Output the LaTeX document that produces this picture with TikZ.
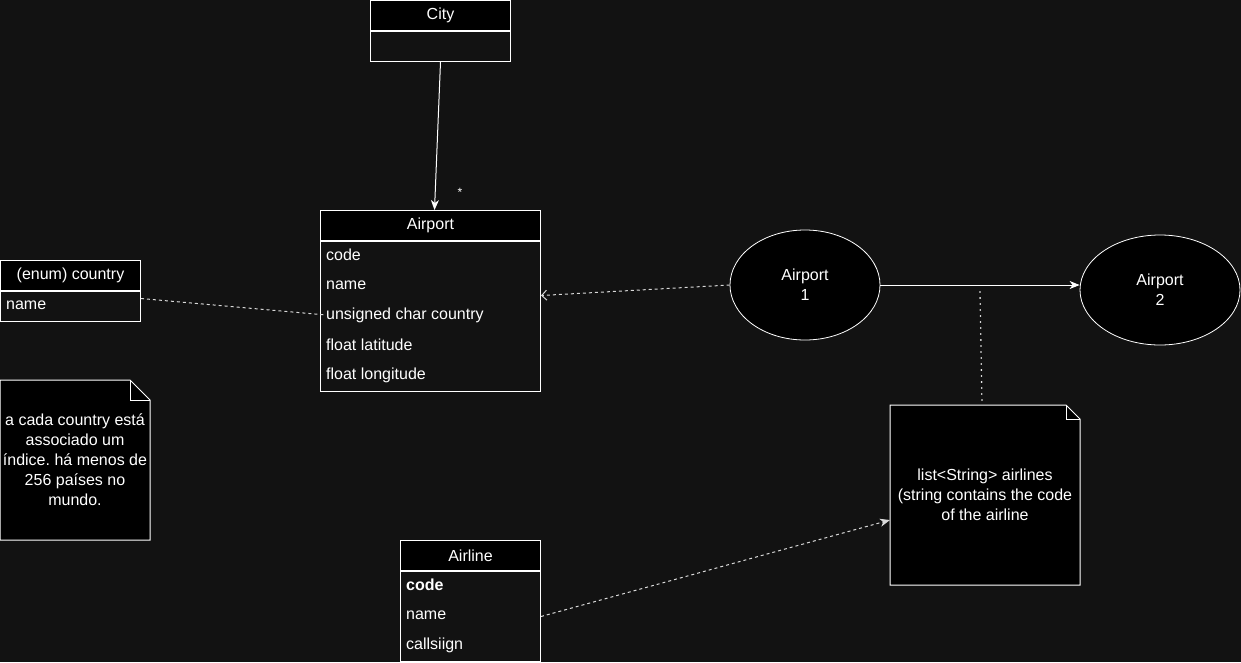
\documentclass[tikz,border=0pt]{standalone}
\usepackage{fontspec}
\setmainfont{Liberation Sans}
\usetikzlibrary{shapes.geometric,arrows.meta}
\definecolor{canvas}{RGB}{18,18,18}
\frenchspacing
\begin{document}
\begin{tikzpicture}[x=1pt,y=-1pt,
  every node/.style={font=\fontsize{16}{20}\selectfont, text=white},
  hdr/.style={draw=white, fill=black, line width=1pt, inner sep=0pt, minimum height=30pt, anchor=north west},
  body/.style={draw=white, fill=canvas, line width=1pt, inner sep=0pt, anchor=north west},
  attr/.style={anchor=west, inner sep=0pt},
  oval/.style={ellipse, draw=white, fill=black, line width=0.8pt, inner sep=0pt, align=center},
  notebody/.style={draw=white, fill=black, line width=1pt},
  notetext/.style={align=center, inner sep=0pt},
  conn/.style={draw=white, line width=1pt},
  dashedconn/.style={draw=white!85!black, line width=1pt, dash pattern=on 3pt off 3pt},
  block/.style={-{Stealth[length=10pt,width=8pt,inset=3pt]}},
  chevron/.style={-{Straight Barb[length=5pt,width=10pt]}},
]
% canvas
\fill[canvas] (0,0) rectangle (1241,662);
\useasboundingbox (0,0) rectangle (1241,662);

% City
\node[hdr, minimum width=140pt] (city) at (370,0) {City};
\node[body, minimum width=140pt, minimum height=30pt] (citybody) at (city.south west) {};

% Airport class
\node[hdr, minimum width=220pt] (airport) at (320,210) {Airport};
\node[body, minimum width=220pt, minimum height=150pt] (apbody) at (airport.south west) {};
\node[attr] (apcode) at (326,255) {code};
\node[attr] (apname) at (326,285) {name};
\node[attr] (apcountry) at (326,315) {unsigned char country};
\node[attr] (aplat) at (326,345) {float latitude};
\node[attr] (aplon) at (326,375) {float longitude};

% country enum
\node[hdr, minimum width=140pt] (country) at (0,260) {(enum) country};
\node[body, minimum width=140pt, minimum height=30pt] (cbody) at (country.south west) {};
\node[attr] (cname) at (6,305) {name};

% Airline class
\node[hdr, minimum width=140pt] (airline) at (400,540) {Airline};
\node[body, minimum width=140pt, minimum height=90pt] (albody) at (airline.south west) {};
\node[attr, font=\fontsize{16}{20}\selectfont\bfseries] (alcode) at (406,585) {code};
\node[attr] (alname) at (406,615) {name};
\node[attr] (alcall) at (406,645) {callsiign};

% note about countries
\path[notebody] (0,380) -- (130,380) -- (150,400) -- (150,540) -- (0,540) -- cycle;
\draw[white, line width=0.8pt] (130,380) -- (130,400) -- (150,400);
\node[notetext] (note1) at (75,460) {a cada country está\\associado um\\índice. há menos de\\256 países no\\mundo.};

% note about airlines
\path[notebody] (890,405) -- (1066,405) -- (1080,419) -- (1080,585) -- (890,585) -- cycle;
\draw[white, line width=0.8pt] (1066,405) -- (1066,419) -- (1080,419);
\node[notetext] (note2) at (985,495) {list<String> airlines\\(string contains the code\\of the airline};

% airports
\node[oval, minimum width=150pt, minimum height=110pt] (a1) at (805,285) {Airport\\1};
\node[oval, minimum width=160pt, minimum height=110pt] (a2) at (1160,290) {Airport\\2};

% connectors
\draw[conn, block] (citybody.south) -- ([xshift=4pt]airport.north);
\node[font=\fontsize{12}{14}\selectfont] (mult) at (460,192) {*};

\draw[dashedconn] ([yshift=8pt]cbody.east) -- (apcountry.west);
\draw[dashedconn, chevron] (a1.west) -- ([yshift=21pt]apbody.east);
\draw[conn, block] (a1.east) -- (a2.west |- a1.east);
\coordinate (route) at (980,292);
\draw[white, line width=1.8pt, dash pattern=on 0pt off 6pt, line cap=round] (route) -- (982,405);
\draw[dashedconn, block] (albody.east) -- (890,520);
\end{tikzpicture}
\end{document}
